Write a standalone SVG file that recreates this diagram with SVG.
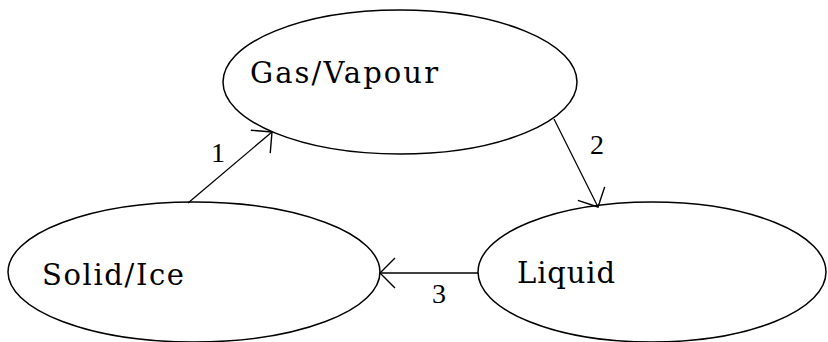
<svg xmlns="http://www.w3.org/2000/svg" width="828" height="342" viewBox="0 0 828 342">
<style>
.node ellipse{fill:#fff;stroke:#000;stroke-width:1.5}
.lbl{font-family:"DejaVu Serif","Liberation Serif",serif;font-size:29px;fill:#000}
.num{font-family:"Liberation Serif","DejaVu Serif",serif;font-size:28px;fill:#000}
.edge{stroke:#000;stroke-width:1.3;fill:none}
</style>
<defs>
<marker id="arr" markerUnits="userSpaceOnUse" markerWidth="40" markerHeight="40" refX="0" refY="0" viewBox="-20 -20 40 40" orient="auto" overflow="visible">
<path d="M -15 -15 L 0 0 L -15 15" fill="none" stroke="#000" stroke-width="1.4"/>
</marker>
</defs>
<rect width="828" height="342" fill="#fff"/>
<g id="gas" class="node">
<ellipse cx="400" cy="82" rx="177" ry="72"/>
<text class="lbl" x="250" y="83" textLength="188" lengthAdjust="spacing">Gas/Vapour</text>
</g>
<g id="solid" class="node">
<ellipse cx="194" cy="272" rx="186" ry="70"/>
<text class="lbl" x="42" y="285" textLength="142" lengthAdjust="spacing">Solid/Ice</text>
</g>
<g id="liquid" class="node">
<ellipse cx="652" cy="272" rx="174" ry="70"/>
<text class="lbl" x="517" y="283" textLength="98" lengthAdjust="spacing">Liquid</text>
</g>
<g id="connectors">
<line class="edge" x1="188" y1="203" x2="272" y2="132" marker-end="url(#arr)"/>
<line class="edge" x1="554" y1="119" x2="598" y2="207" marker-end="url(#arr)"/>
<line class="edge" x1="478" y1="273" x2="380" y2="273" marker-end="url(#arr)"/>
<text class="num" x="211" y="162">1</text>
<text class="num" x="590" y="154">2</text>
<text class="num" x="432" y="303">3</text>
</g>
</svg>
